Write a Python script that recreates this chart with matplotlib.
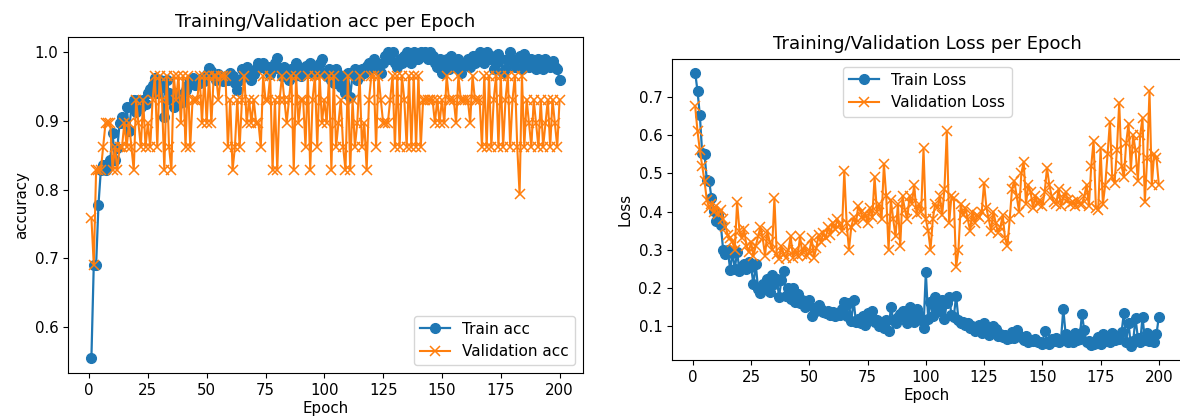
import matplotlib
matplotlib.use("Agg")
import matplotlib.pyplot as plt

epochs = list(range(1, 201))

train_acc = [
    0.555, 0.690, 0.690, 0.778, 0.828, 0.836, 0.828, 0.836, 0.843, 0.882,
    0.843, 0.860, 0.897, 0.905, 0.897, 0.920, 0.885, 0.920, 0.930, 0.913,
    0.930, 0.920, 0.930, 0.925, 0.940, 0.946, 0.953, 0.963, 0.940, 0.960,
    0.950, 0.905, 0.960, 0.940, 0.930, 0.920, 0.940, 0.925, 0.938, 0.928,
    0.945, 0.953, 0.960, 0.963, 0.953, 0.960, 0.955, 0.963, 0.958, 0.968,
    0.977, 0.972, 0.965, 0.960, 0.968, 0.963, 0.958, 0.965, 0.960, 0.970,
    0.965, 0.955, 0.945, 0.960, 0.975, 0.965, 0.978, 0.970, 0.960, 0.968,
    0.975, 0.985, 0.978, 0.985, 0.975, 0.978, 0.968, 0.975, 0.985, 0.992,
    0.975, 0.965, 0.978, 0.970, 0.960, 0.975, 0.965, 0.985, 0.970, 0.965,
    0.975, 0.980, 0.970, 0.985, 0.975, 0.968, 0.980, 0.985, 0.990, 0.970,
    0.965, 0.975, 0.960, 0.955, 0.975, 0.968, 0.950, 0.960, 0.940, 0.970,
    0.935, 0.968, 0.975, 0.960, 0.965, 0.975, 0.970, 0.980, 0.985, 0.975,
    0.990, 0.985, 0.980, 0.970, 0.985, 0.995, 1.000, 0.990, 1.000, 0.985,
    0.978, 0.990, 0.985, 0.995, 1.000, 0.990, 0.985, 1.000, 0.995, 0.990,
    1.000, 0.995, 1.000, 0.990, 1.000, 0.995, 0.985, 0.978, 0.990, 0.970,
    0.985, 0.990, 0.975, 0.995, 0.985, 0.978, 0.990, 0.970, 0.980, 0.985,
    0.990, 0.978, 0.995, 0.985, 0.990, 1.000, 0.995, 0.985, 1.000, 0.990,
    0.995, 0.975, 0.985, 0.998, 0.990, 0.970, 0.975, 0.990, 1.000, 0.985,
    0.978, 0.990, 0.995, 0.975, 0.998, 0.985, 0.978, 0.990, 0.985, 0.975,
    0.990, 0.980, 0.975, 0.990, 0.985, 0.978, 0.988, 0.978, 0.975, 0.960,
]

val_acc = [
    0.759, 0.690, 0.828, 0.828, 0.828, 0.862, 0.897, 0.897, 0.897, 0.828,
    0.862, 0.828, 0.862, 0.862, 0.897, 0.862, 0.897, 0.862, 0.828, 0.931,
    0.897, 0.862, 0.931, 0.862, 0.897, 0.862, 0.931, 0.966, 0.862, 0.966,
    0.931, 0.828, 0.966, 0.862, 0.828, 0.966, 0.931, 0.966, 0.897, 0.966,
    0.862, 0.966, 0.862, 0.931, 0.931, 0.931, 0.966, 0.897, 0.966, 0.897,
    0.966, 0.897, 0.966, 0.966, 0.931, 0.966, 0.966, 0.966, 0.862, 0.931,
    0.828, 0.862, 0.931, 0.862, 0.931, 0.966, 0.897, 0.931, 0.897, 0.931,
    0.897, 0.897, 0.862, 0.966, 0.931, 0.931, 0.966, 0.828, 0.931, 0.828,
    0.931, 0.966, 0.931, 0.897, 0.931, 0.966, 0.828, 0.966, 0.897, 0.931,
    0.931, 0.862, 0.966, 0.828, 0.931, 0.966, 0.862, 0.966, 0.897, 0.931,
    0.897, 0.966, 0.828, 0.966, 0.862, 0.897, 0.931, 0.862, 0.828, 0.966,
    0.828, 0.931, 0.862, 0.897, 0.966, 0.862, 0.897, 0.828, 0.931, 0.966,
    0.966, 0.862, 0.966, 0.931, 0.897, 0.897, 0.897, 0.931, 0.966, 0.862,
    0.966, 0.862, 0.966, 0.931, 0.862, 0.966, 0.862, 0.966, 0.862, 0.966,
    0.862, 0.931, 0.931, 0.931, 0.931, 0.931, 0.897, 0.931, 0.897, 0.931,
    0.897, 0.966, 0.931, 0.931, 0.931, 0.897, 0.966, 0.931, 0.931, 0.931,
    0.931, 0.897, 0.966, 0.931, 0.931, 0.931, 0.862, 0.966, 0.862, 0.966,
    0.862, 0.931, 0.966, 0.862, 0.966, 0.862, 0.931, 0.966, 0.862, 0.931,
    0.966, 0.862, 0.793, 0.966, 0.862, 0.931, 0.897, 0.862, 0.931, 0.897,
    0.862, 0.931, 0.862, 0.897, 0.931, 0.862, 0.931, 0.897, 0.862, 0.931,
]

train_loss = [
    0.763, 0.715, 0.652, 0.553, 0.550, 0.482, 0.480, 0.435, 0.402, 0.375,
    0.390, 0.365, 0.300, 0.290, 0.300, 0.248, 0.292, 0.250, 0.295, 0.245,
    0.258, 0.262, 0.250, 0.268, 0.255, 0.210, 0.262, 0.198, 0.188, 0.212,
    0.205, 0.225, 0.190, 0.235, 0.210, 0.225, 0.178, 0.220, 0.245, 0.180,
    0.200, 0.172, 0.200, 0.165, 0.185, 0.160, 0.170, 0.150, 0.155, 0.168,
    0.128, 0.148, 0.140, 0.155, 0.145, 0.138, 0.135, 0.140, 0.130, 0.138,
    0.128, 0.135, 0.130, 0.145, 0.165, 0.128, 0.160, 0.115, 0.168, 0.112,
    0.120, 0.110, 0.128, 0.105, 0.135, 0.125, 0.140, 0.112, 0.118, 0.100,
    0.108, 0.095, 0.118, 0.088, 0.150, 0.118, 0.110, 0.125, 0.132, 0.140,
    0.125, 0.110, 0.150, 0.128, 0.112, 0.145, 0.130, 0.118, 0.095, 0.242,
    0.120, 0.165, 0.128, 0.178, 0.150, 0.140, 0.168, 0.120, 0.162, 0.178,
    0.130, 0.125, 0.180, 0.118, 0.110, 0.112, 0.105, 0.108, 0.095, 0.100,
    0.088, 0.095, 0.105, 0.082, 0.110, 0.090, 0.078, 0.085, 0.100, 0.092,
    0.075, 0.080, 0.072, 0.078, 0.068, 0.070, 0.085, 0.070, 0.090, 0.075,
    0.072, 0.065, 0.075, 0.060, 0.065, 0.062, 0.068, 0.058, 0.060, 0.055,
    0.088, 0.060, 0.055, 0.068, 0.062, 0.070, 0.058, 0.065, 0.145, 0.080,
    0.058, 0.072, 0.060, 0.082, 0.065, 0.068, 0.132, 0.090, 0.058, 0.062,
    0.052, 0.055, 0.060, 0.072, 0.055, 0.080, 0.062, 0.070, 0.058, 0.082,
    0.065, 0.075, 0.068, 0.085, 0.135, 0.060, 0.110, 0.048, 0.062, 0.122,
    0.070, 0.058, 0.125, 0.065, 0.082, 0.062, 0.075, 0.058, 0.080, 0.125,
]

val_loss = [
    0.675, 0.610, 0.560, 0.520, 0.480, 0.430, 0.410, 0.420, 0.400, 0.415,
    0.395, 0.405, 0.380, 0.360, 0.340, 0.330, 0.320, 0.300, 0.425, 0.350,
    0.330, 0.355, 0.310, 0.295, 0.320, 0.285, 0.310, 0.335, 0.360, 0.330,
    0.285, 0.350, 0.320, 0.300, 0.435, 0.290, 0.275, 0.310, 0.290, 0.280,
    0.300, 0.335, 0.280, 0.300, 0.285, 0.335, 0.290, 0.310, 0.285, 0.295,
    0.330, 0.280, 0.305, 0.340, 0.320, 0.345, 0.330, 0.360, 0.340, 0.370,
    0.355, 0.380, 0.365, 0.350, 0.505, 0.370, 0.300, 0.360, 0.385, 0.370,
    0.415, 0.400, 0.380, 0.395, 0.370, 0.410, 0.385, 0.490, 0.400, 0.420,
    0.380, 0.525, 0.440, 0.300, 0.430, 0.380, 0.335, 0.420, 0.310, 0.440,
    0.405, 0.380, 0.440, 0.420, 0.470, 0.395, 0.420, 0.400, 0.565, 0.380,
    0.350, 0.300, 0.380, 0.420, 0.410, 0.440, 0.390, 0.460, 0.610, 0.370,
    0.440, 0.435, 0.255, 0.300, 0.420, 0.390, 0.410, 0.380, 0.350, 0.400,
    0.370, 0.390, 0.385, 0.400, 0.475, 0.410, 0.380, 0.350, 0.400, 0.370,
    0.345, 0.360, 0.390, 0.330, 0.310, 0.380, 0.460, 0.480, 0.440, 0.400,
    0.500, 0.530, 0.420, 0.470, 0.450, 0.410, 0.440, 0.420, 0.430, 0.415,
    0.450, 0.515, 0.470, 0.440, 0.425, 0.420, 0.460, 0.415, 0.435, 0.450,
    0.430, 0.420, 0.425, 0.415, 0.430, 0.420, 0.420, 0.440, 0.470, 0.415,
    0.520, 0.585, 0.410, 0.405, 0.565, 0.420, 0.470, 0.550, 0.635, 0.490,
    0.475, 0.560, 0.685, 0.520, 0.490, 0.580, 0.630, 0.510, 0.600, 0.560,
    0.480, 0.600, 0.645, 0.425, 0.540, 0.715, 0.470, 0.550, 0.540, 0.470,
]

BLUE = "#1f77b4"
ORANGE = "#ff7f0e"
xticks = [0, 25, 50, 75, 100, 125, 150, 175, 200]

fig = plt.figure(figsize=(11.8, 4.19), dpi=100)

# Left panel: accuracy
ax1 = fig.add_axes([68 / 1180, 1 - 373 / 419, (583 - 68) / 1180, (373 - 37) / 419])
ax1.plot(epochs, train_acc, marker="o", color=BLUE, lw=1.6, ms=7, label="Train acc")
ax1.plot(epochs, val_acc, marker="x", color=ORANGE, lw=1.5, ms=7, mew=1.1,
         label="Validation acc")
ax1.set_title("Training/Validation acc per Epoch", fontsize=13, pad=7)
ax1.set_xlabel("Epoch", fontsize=10.8, labelpad=2)
ax1.set_ylabel("accuracy", fontsize=10.8)
ax1.set_xticks(xticks)
ax1.set_yticks([0.6, 0.7, 0.8, 0.9, 1.0])
ax1.tick_params(labelsize=10.8)
ax1.legend(loc="lower right", fontsize=11)

# Right panel: loss
ax2 = fig.add_axes([672 / 1180, 1 - 360 / 419, (1182 - 672) / 1180, (360 - 59) / 419])
ax2.plot(epochs, train_loss, marker="o", color=BLUE, lw=1.6, ms=7, label="Train Loss")
ax2.plot(epochs, val_loss, marker="x", color=ORANGE, lw=1.5, ms=7, mew=1.1,
         label="Validation Loss")
ax2.set_title("Training/Validation Loss per Epoch", fontsize=13, pad=7)
ax2.set_xlabel("Epoch", fontsize=10.8, labelpad=2)
ax2.set_ylabel("Loss", fontsize=10.8)
ax2.set_xticks(xticks)
ax2.set_yticks([0.1, 0.2, 0.3, 0.4, 0.5, 0.6, 0.7])
ax2.tick_params(labelsize=10.8)
ax2.legend(loc="upper center", fontsize=11)

fig.savefig("out.png", dpi=100)
